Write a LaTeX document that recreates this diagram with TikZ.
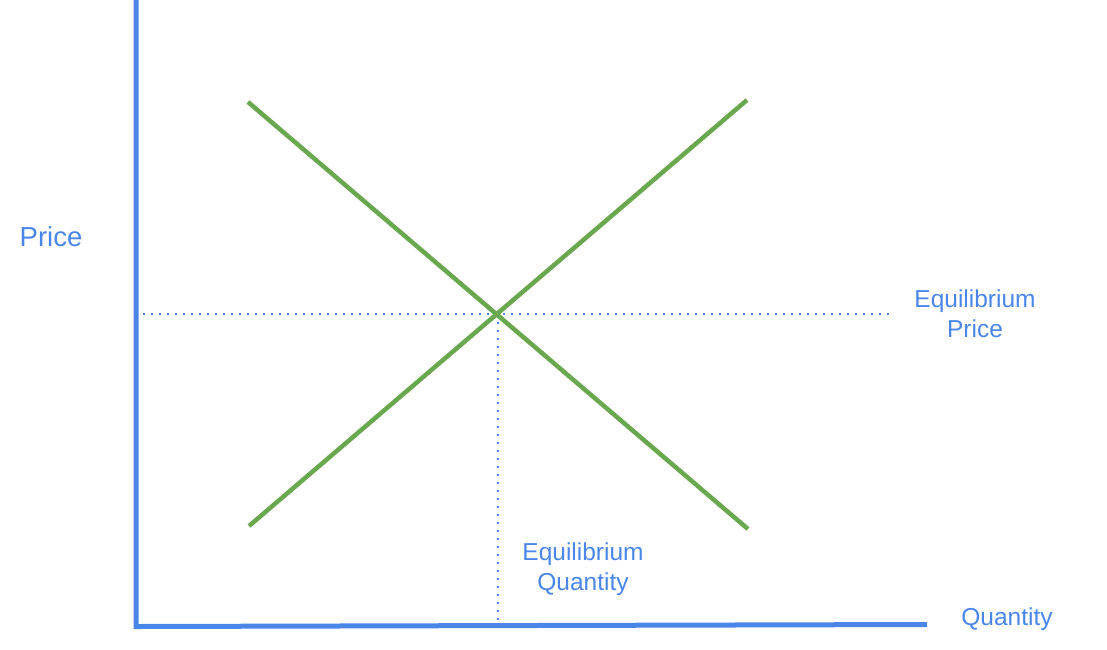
\documentclass[tikz,border=0pt]{standalone}
\usepackage{fontspec}
\setmainfont{Liberation Sans}
\definecolor{axisblue}{HTML}{4A86E8}
\definecolor{curvegreen}{HTML}{6AA84F}
\tikzset{
  axisline/.style={draw=axisblue, line width=5pt},
  curve/.style={draw=curvegreen, line width=4.5pt},
  guide/.style={draw=axisblue, line width=2pt, dash pattern=on 2pt off 6pt},
  lbl/.style={text=axisblue, font=\fontsize{24.5pt}{30pt}\selectfont, align=center, inner sep=0pt},
}
\begin{document}
\begin{tikzpicture}[x=1pt,y=-1pt]
\useasboundingbox (0,0) rectangle (1107,649);
% axes
\coordinate (ytop) at (136,0);
\coordinate (origin) at (136,626.5);
\coordinate (xend) at (927,624.5);
\draw[axisline] (ytop) -- (origin) -- (xend);
% curves
\coordinate (d1) at (248,102);
\coordinate (d2) at (748,529);
\coordinate (s1) at (249,526);
\coordinate (s2) at (747,100);
\coordinate (eq) at (498,314);
\coordinate (hl) at (143,314);
\coordinate (hr) at (890,314);
\coordinate (vb) at (498,623);
% guides
\draw[guide] (hl) -- (hr);
\draw[guide] (eq) -- (vb);
\draw[curve] (d1) -- (d2);
\draw[curve] (s1) -- (s2);
% labels
\node[lbl, font=\fontsize{27.5pt}{33pt}\selectfont] (price) at (51,237) {Price};
\node[lbl] (eqp) at (975,314) {Equilibrium\\Price};
\node[lbl] (eqq) at (583,569) {Equilibrium\\Quantity};
\node[lbl] (qty) at (1007,619) {Quantity};
\end{tikzpicture}
\end{document}
